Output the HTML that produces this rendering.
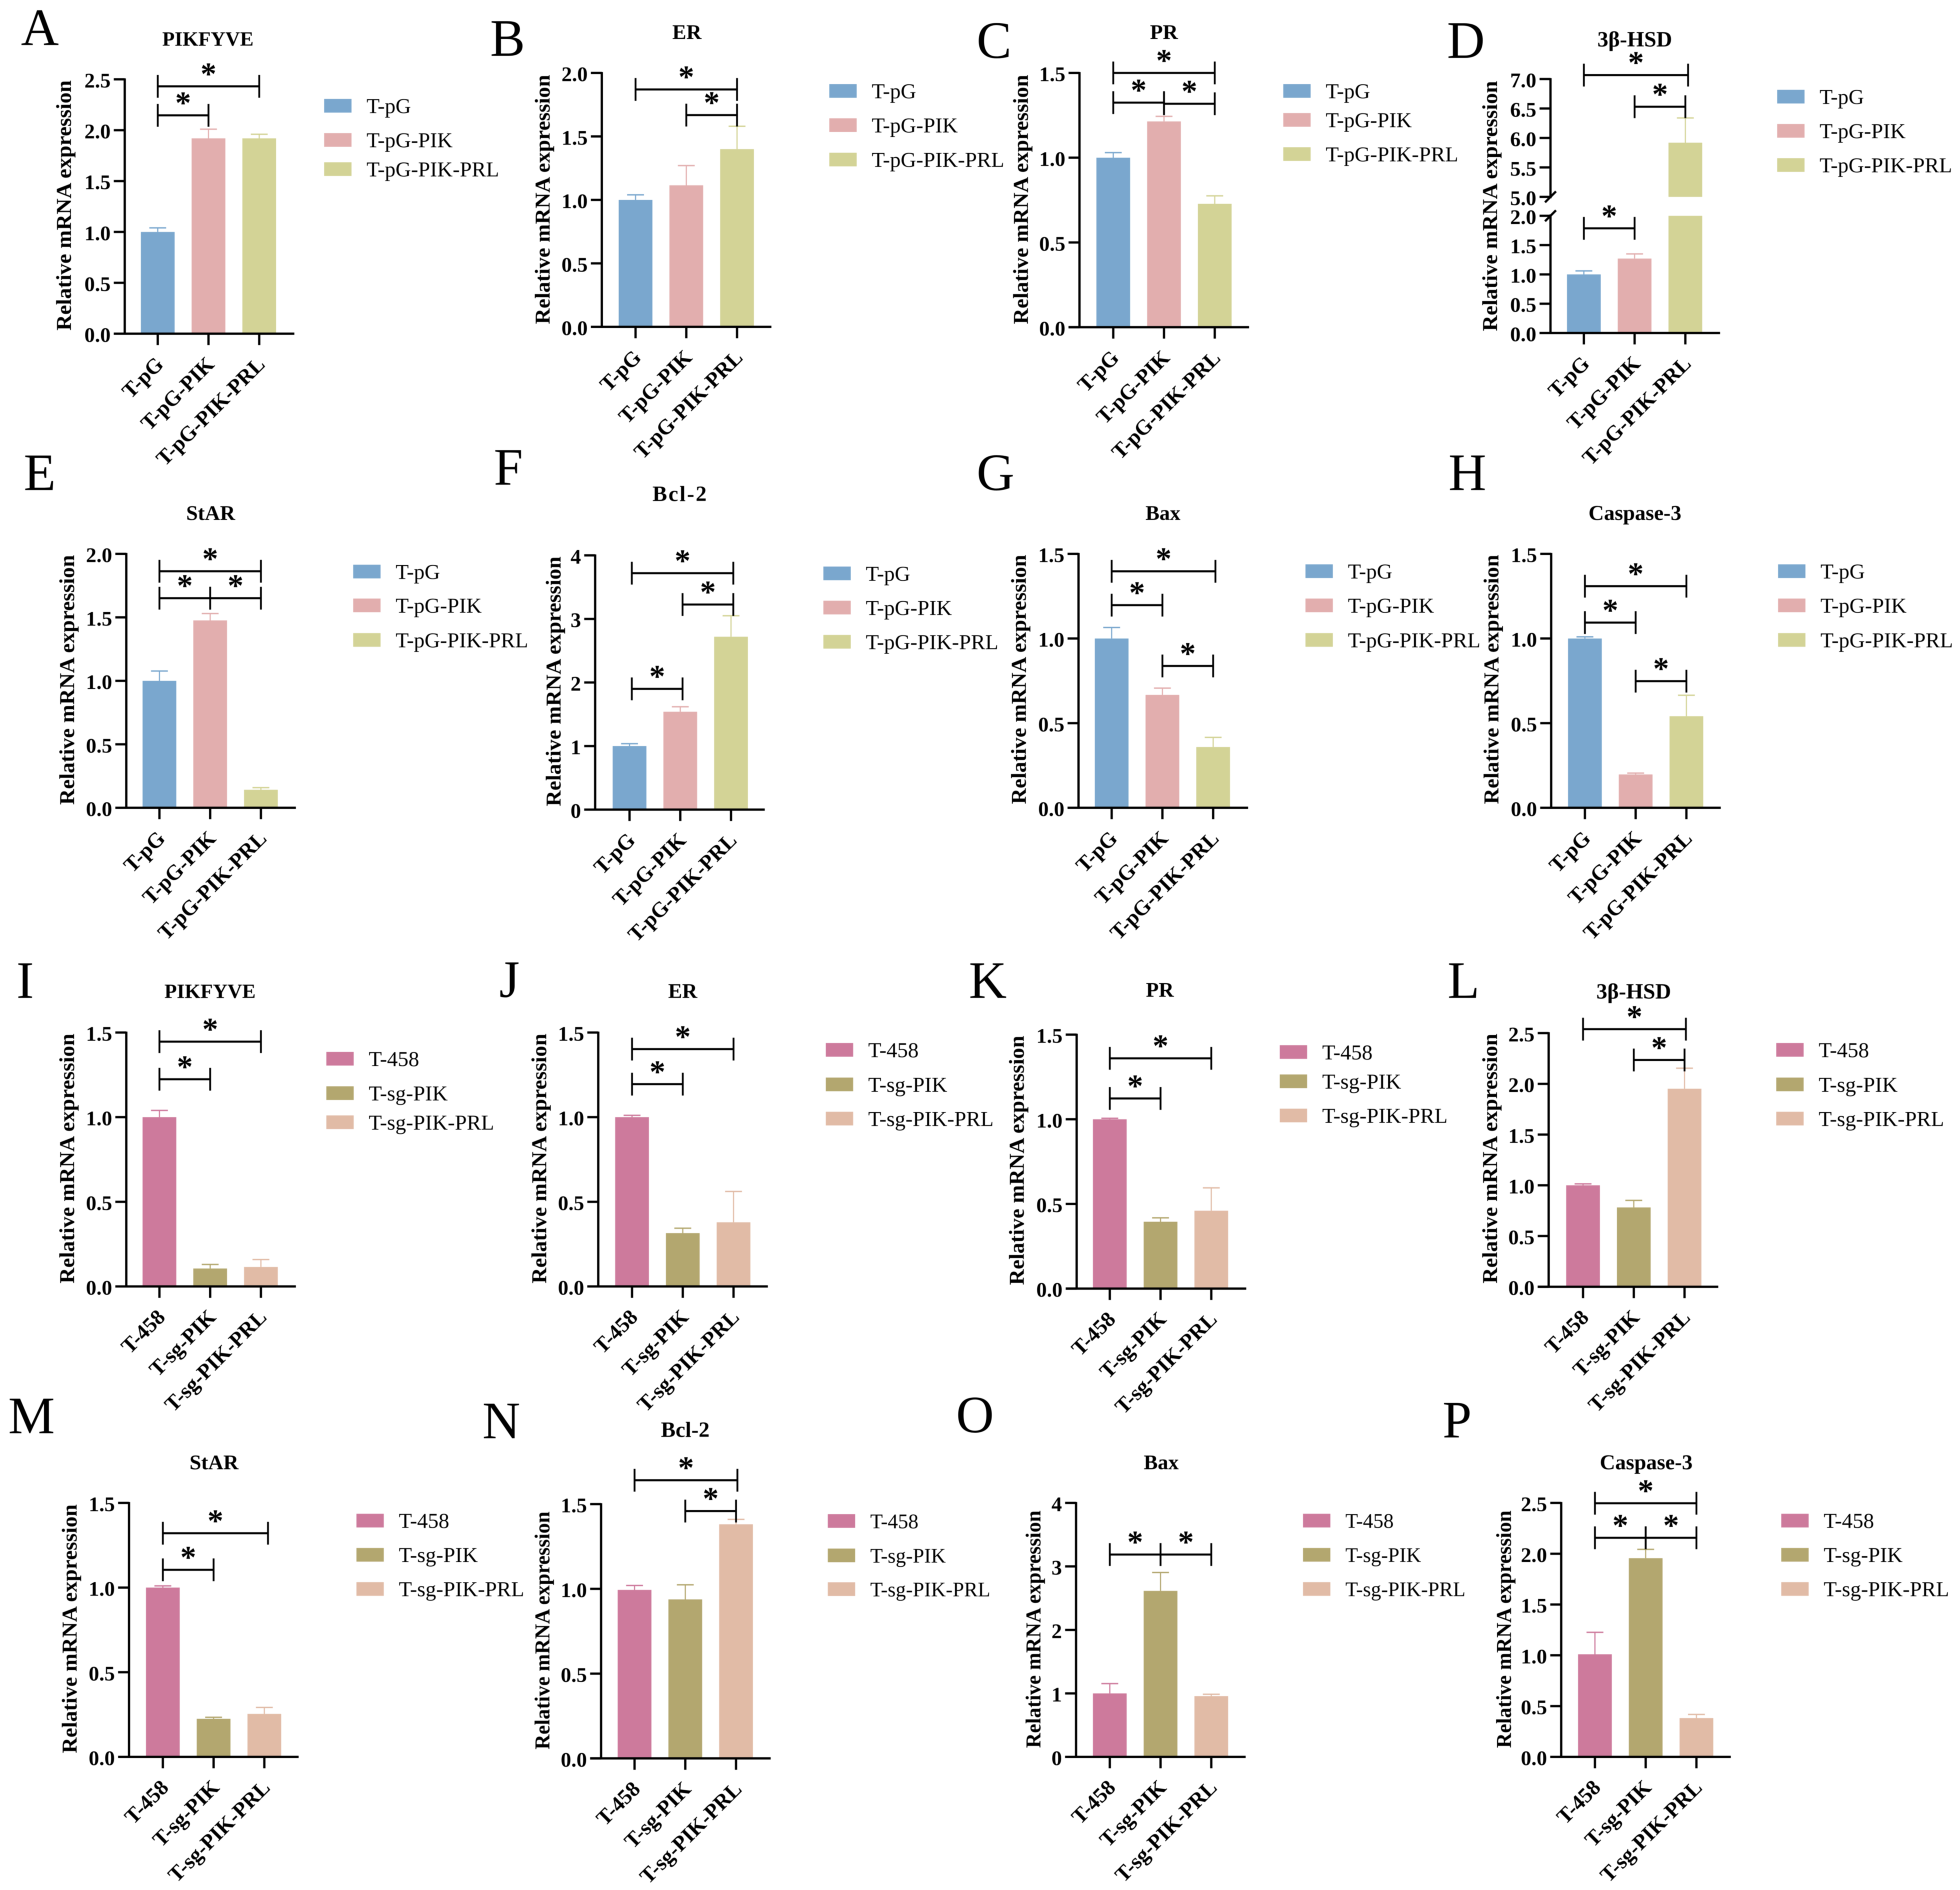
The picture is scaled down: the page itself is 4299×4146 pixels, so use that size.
<!DOCTYPE html>
<html lang="en">
<head>
<meta charset="utf-8">
<title>Relative mRNA expression panels A-P</title>
<style>
html,body{margin:0;padding:0;background:#fff;}
svg{display:block;filter:blur(0.8px);}
text{font-family:"Liberation Serif","DejaVu Serif",serif;fill:#000;}
.b{font-weight:bold;}
</style>
</head>
<body>
<svg id="figure" xmlns="http://www.w3.org/2000/svg" width="4299" height="4146" viewBox="0 0 4299 4146"></svg>
<script>
const categoriesPG = ["T-pG", "T-pG-PIK", "T-pG-PIK-PRL"];
const categoriesSG = ["T-458", "T-sg-PIK", "T-sg-PIK-PRL"];

const ticksTo15 = ["0.0", "0.5", "1.0", "1.5"];
const ticksTo20 = ["0.0", "0.5", "1.0", "1.5", "2.0"];
const ticksTo25 = ["0.0", "0.5", "1.0", "1.5", "2.0", "2.5"];
const ticksTo4 = ["0", "1", "2", "3", "4"];
const ticksBrokenLow = ["0.0", "0.5", "1.0", "1.5", "2.0"];
const ticksBrokenHigh = ["5.0", "5.5", "6.0", "6.5", "7.0"];

const valuesA = [1.0, 1.92, 1.92];
const errorsA = [0.04, 0.09, 0.04];
const bracketsA = [[0, 2, 2.431], [0, 1, 2.146]];

const valuesB = [1.0, 1.115, 1.40];
const errorsB = [0.04, 0.155, 0.18];
const bracketsB = [[0, 2, 1.87], [1, 2, 1.668]];

const valuesC = [1.0, 1.214, 0.728];
const errorsC = [0.03, 0.03, 0.047];
const bracketsC = [[0, 2, 1.5], [0, 1, 1.325], [1, 2, 1.318]];

const valuesD = [1.0, 1.27, 5.92];
const errorsD = [0.06, 0.08, 0.42];
const bracketsD = [[0, 2, 7.067], [1, 2, 6.53], [0, 1, 1.786]];

const valuesE = [1.0, 1.476, 0.142];
const errorsE = [0.077, 0.054, 0.017];
const bracketsE = [[0, 2, 1.863], [0, 1, 1.651], [1, 2, 1.651]];

const valuesF = [1.0, 1.54, 2.72];
const errorsF = [0.037, 0.078, 0.33];
const bracketsF = [[0, 2, 3.72], [1, 2, 3.227], [0, 1, 1.90]];

const valuesG = [1.0, 0.667, 0.359];
const errorsG = [0.065, 0.04, 0.057];
const bracketsG = [[0, 2, 1.397], [0, 1, 1.197], [1, 2, 0.838]];

const valuesH = [1.0, 0.197, 0.541];
const errorsH = [0.01, 0.008, 0.124];
const bracketsH = [[0, 2, 1.309], [0, 1, 1.094], [1, 2, 0.748]];

const valuesI = [1.0, 0.106, 0.115];
const errorsI = [0.04, 0.024, 0.044];
const bracketsI = [[0, 2, 1.446], [0, 1, 1.224]];

const valuesJ = [1.0, 0.315, 0.379];
const errorsJ = [0.011, 0.029, 0.182];
const bracketsJ = [[0, 2, 1.402], [0, 1, 1.195]];

const valuesK = [1.0, 0.395, 0.46];
const errorsK = [0.006, 0.023, 0.135];
const bracketsK = [[0, 2, 1.36], [0, 1, 1.123]];

const valuesL = [1.0, 0.782, 1.952];
const errorsL = [0.014, 0.069, 0.202];
const bracketsL = [[0, 2, 2.539], [1, 2, 2.235]];

const valuesM = [1.0, 0.225, 0.254];
const errorsM = [0.01, 0.009, 0.038];
const bracketsM = [[0, 2, 1.321], [0, 1, 1.105]];

const valuesN = [0.994, 0.938, 1.381];
const errorsN = [0.026, 0.086, 0.029];
const bracketsN = [[0, 2, 1.641], [1, 2, 1.459]];

const valuesO = [1.0, 2.615, 0.957];
const errorsO = [0.154, 0.289, 0.029];
const bracketsO = [[0, 1, 3.187], [1, 2, 3.187]];

const valuesP = [1.01, 1.956, 0.382];
const errorsP = [0.216, 0.087, 0.036];
const bracketsP = [[0, 2, 2.497], [0, 1, 2.157], [1, 2, 2.157]];

const colorsPG = ["#7aa7ce", "#e2aeae", "#d3d396"];
const colorsSG = ["#cd7a9c", "#b3a76f", "#e1bba6"];

const panels = [
  {k:"a", letter:"A", lx:46, ly:99, title:"PIKFYVE", ts:44.5, tx:456, ty:100, cats:categoriesPG, colors:colorsPG, values:valuesA, errors:errorsA, ticks:ticksTo25, brackets:bracketsA, ax:273.6, top:174, zero:732, c0:346, yx:155.7, yy:450.6, ylen:549, legx:711, legy:[232,307,371]},
  {k:"b", letter:"B", lx:1075, ly:122.5, title:"ER", ts:46, tx:1506.6, ty:85.7, cats:categoriesPG, colors:colorsPG, values:valuesB, errors:errorsB, ticks:ticksTo20, brackets:bracketsB, ax:1320, top:160, zero:717, c0:1394, yx:1205.7, yy:437.6, ylen:547, legx:1819, legy:[199.5,274.5,350]},
  {k:"c", letter:"C", lx:2142, ly:127, title:"PR", ts:46, tx:2553, ty:85.7, cats:categoriesPG, colors:colorsPG, values:valuesC, errors:errorsC, ticks:ticksTo15, brackets:bracketsC, ax:2367.7, top:160, zero:717.8, c0:2441.8, yx:2254.7, yy:437.6, ylen:547, legx:2814.7, legy:[199.5,263,338]},
  {k:"d", letter:"D", lx:3173.7, ly:127, title:"3β-HSD", ts:48, tx:3585.6, ty:101.8, cats:categoriesPG, colors:colorsPG, values:valuesD, errors:errorsD, ticks:ticksBrokenLow, ticksHigh:ticksBrokenHigh, brackets:bracketsD, ax:3400.8, top:173.4, zero:730.5, c0:3474, yx:3283.7, yy:452, ylen:549, legx:3898, legy:[212,287,362], nudge:6, broken:{lowMax:2, lowTop:473.4, highMin:5, highBottom:431.9}},
  {k:"e", letter:"E", lx:52, ly:1075, title:"StAR", ts:46, tx:462, ty:1140.6, cats:categoriesPG, colors:colorsPG, values:valuesE, errors:errorsE, ticks:ticksTo20, brackets:bracketsE, ax:277, top:1215, zero:1772, c0:349.7, yx:162.5, yy:1491.5, ylen:548, legx:774.7, legy:[1253.8,1328,1403.8]},
  {k:"f", letter:"F", lx:1083, ly:1063.6, title:"Bcl-2", ts:48, tsp:3, tx:1492, ty:1099, cats:categoriesPG, colors:colorsPG, values:valuesF, errors:errorsF, ticks:ticksTo4, brackets:bracketsF, ax:1305.4, top:1218.3, zero:1776, c0:1380.8, yx:1229.4, yy:1494.8, ylen:548, legx:1806, legy:[1257.8,1332.8,1407.8], shift:5},
  {k:"g", letter:"G", lx:2142, ly:1075, title:"Bax", ts:46, tx:2550.8, ty:1140.6, cats:categoriesPG, colors:colorsPG, values:valuesG, errors:errorsG, ticks:ticksTo15, brackets:bracketsG, ax:2365.6, top:1215, zero:1772, c0:2438.3, yx:2249.8, yy:1490.5, ylen:547, legx:2863.4, legy:[1253,1328,1403.8], nudge:5},
  {k:"h", letter:"H", lx:3177, ly:1075, title:"Caspase-3", ts:47, tx:3586, ty:1140.6, cats:categoriesPG, colors:colorsPG, values:valuesH, errors:errorsH, ticks:ticksTo15, brackets:bracketsH, ax:3402.3, top:1215, zero:1772, c0:3476.3, yx:3286.5, yy:1490.5, ylen:547, legx:3900, legy:[1253,1328,1403.8]},
  {k:"i", letter:"I", lx:36, ly:2189, title:"PIKFYVE", ts:44.5, tx:460.7, ty:2189, cats:categoriesSG, colors:colorsSG, values:valuesI, errors:errorsI, ticks:ticksTo15, brackets:bracketsI, ax:277, top:2265, zero:2822, c0:349.7, yx:162.5, yy:2541.5, ylen:548, legx:715.8, legy:[2322.5,2398,2461.8]},
  {k:"j", letter:"J", lx:1095, ly:2187, title:"ER", ts:46, tx:1497.4, ty:2189, cats:categoriesSG, colors:colorsSG, values:valuesJ, errors:errorsJ, ticks:ticksTo15, brackets:bracketsJ, ax:1312.2, top:2265, zero:2822, c0:1386.3, yx:1197.8, yy:2541.5, ylen:548, legx:1811.3, legy:[2303,2378.8,2453.8]},
  {k:"k", letter:"K", lx:2125, ly:2189, title:"PR", ts:46, tx:2544, ty:2186.6, cats:categoriesSG, colors:colorsSG, values:valuesK, errors:errorsK, ticks:ticksTo15, brackets:bracketsK, ax:2361.5, top:2269.6, zero:2826.7, c0:2434.2, yx:2245.7, yy:2545.5, ylen:547, legx:2807, legy:[2307.8,2372,2447]},
  {k:"l", letter:"L", lx:3175, ly:2189, title:"3β-HSD", ts:48, tx:3583.3, ty:2190.6, cats:categoriesSG, colors:colorsSG, values:valuesL, errors:errorsL, ticks:ticksTo25, brackets:bracketsL, ax:3396.8, top:2266.3, zero:2822.7, c0:3472.2, yx:3283.7, yy:2541.5, ylen:548, legx:3896, legy:[2303,2378.8,2453.8], nudge:3},
  {k:"m", letter:"M", lx:18, ly:3144, title:"StAR", ts:46, tx:469.4, ty:3223, cats:categoriesSG, colors:colorsSG, values:valuesM, errors:errorsM, ticks:ticksTo15, brackets:bracketsM, ax:283, top:3296.9, zero:3854, c0:357.2, yx:168, yy:3573, ylen:546, legx:781.8, legy:[3335.7,3410.7,3485.7], nudge:8},
  {k:"n", letter:"N", lx:1058, ly:3154.9, title:"Bcl-2", ts:48, tx:1503, ty:3152, cats:categoriesSG, colors:colorsSG, values:valuesN, errors:errorsN, ticks:ticksTo15, brackets:bracketsN, ax:1318.4, top:3299.5, zero:3857.3, c0:1391.8, yx:1205, yy:3576.7, ylen:522, legx:1815.7, legy:[3336.5,3412,3486], nudge:3, legfs:45},
  {k:"o", letter:"O", lx:2097, ly:3142, title:"Bax", ts:46, tx:2547, ty:3223, cats:categoriesSG, colors:colorsSG, values:valuesO, errors:errorsO, ticks:ticksTo4, brackets:bracketsO, ax:2360.2, top:3296.9, zero:3854, c0:2434.2, yx:2282, yy:3574, ylen:521, legx:2858, legy:[3335.7,3410.7,3485.7], legfs:45},
  {k:"p", letter:"P", lx:3164, ly:3153, title:"Caspase-3", ts:47, tx:3610.7, ty:3223, cats:categoriesSG, colors:colorsSG, values:valuesP, errors:errorsP, ticks:ticksTo25, brackets:bracketsP, ax:3424.3, top:3296.9, zero:3854, c0:3498.3, yx:3314, yy:3574, ylen:521, legx:3907, legy:[3335.7,3410.7,3485.7]}
];

const SVGNS = "http://www.w3.org/2000/svg";
const BAND = 111.3;
const BAR_W = 74;
const CAP_W = 37;
const AXIS_W = 5;
const TICK_LEN = 24;

function make(parent, tag, attrs, txt) {
  const n = document.createElementNS(SVGNS, tag);
  for (const key in attrs) n.setAttribute(key, attrs[key]);
  if (txt !== undefined) n.textContent = txt;
  parent.appendChild(n);
  return n;
}

function yScale(p) {
  if (p.broken) {
    const b = p.broken;
    const highMax = parseFloat(p.ticksHigh[p.ticksHigh.length - 1]);
    return function (v) {
      if (v <= b.lowMax) return p.zero - (v / b.lowMax) * (p.zero - b.lowTop);
      return b.highBottom - ((v - b.highMin) / (highMax - b.highMin)) * (b.highBottom - p.top);
    };
  }
  const max = parseFloat(p.ticks[p.ticks.length - 1]);
  return function (v) { return p.zero - (v / max) * (p.zero - p.top); };
}

function drawPanel(root, p) {
  const y = yScale(p);
  const x = function (i) { return p.c0 + i * BAND; };

  const g = make(root, "g", {});
  
  

  const letter = make(g, "text", {x: p.lx, y: p.ly, "font-size": 115}, p.letter);
  
  

  const title = make(g, "text", {x: p.tx, y: p.ty, "font-size": p.ts, "letter-spacing": p.tsp || 0, "text-anchor": "middle", "class": "b"}, p.title);
  
  

  const yTitle = make(g, "text", {x: p.yx, y: p.yy, "font-size": 47, "text-anchor": "middle", "class": "b", textLength: p.ylen, lengthAdjust: "spacingAndGlyphs", transform: "rotate(-90 " + p.yx + " " + p.yy + ")"}, "Relative mRNA expression");
  
  

  // bars
  p.values.forEach(function (v, i) {
    const cx = x(i);
    const col = p.colors[i];
    if (p.broken && v > p.broken.lowMax) {
      const low = make(g, "rect", {x: cx - BAR_W / 2, y: y(p.broken.lowMax), width: BAR_W, height: p.zero - y(p.broken.lowMax), fill: col});
      
      
      const high = make(g, "rect", {x: cx - BAR_W / 2, y: y(v), width: BAR_W, height: y(p.broken.highMin) - y(v), fill: col});
      
      
    } else {
      const bar = make(g, "rect", {x: cx - BAR_W / 2, y: y(v), width: BAR_W, height: p.zero - y(v), fill: col});
      
      
    }
    const upper = v + p.errors[i];
    const stem = make(g, "line", {x1: cx, x2: cx, y1: y(v), y2: y(upper), stroke: col, "stroke-width": 2.5});
    
    
    const cap = make(g, "line", {x1: cx - CAP_W / 2, x2: cx + CAP_W / 2, y1: y(upper), y2: y(upper), stroke: col, "stroke-width": 3});
    
    
  });

  // y axis
  if (p.broken) {
    const b = p.broken;
    const upperAxis = make(g, "line", {x1: p.ax, x2: p.ax, y1: p.top - 2, y2: b.highBottom + 3, stroke: "#000", "stroke-width": AXIS_W});
    
    
    const lowerAxis = make(g, "line", {x1: p.ax, x2: p.ax, y1: b.lowTop - 3, y2: p.zero + 2, stroke: "#000", "stroke-width": AXIS_W});
    
    
    [b.highBottom, b.lowTop].forEach(function (by) {
      const slash = make(g, "line", {x1: p.ax - 12, x2: p.ax + 12, y1: by + 12, y2: by - 12, stroke: "#000", "stroke-width": AXIS_W});
      
      
    });
  } else {
    const yAxis = make(g, "line", {x1: p.ax, x2: p.ax, y1: p.top - 2, y2: p.zero + 2, stroke: "#000", "stroke-width": AXIS_W});
    
    
  }

  // y ticks
  const allTicks = p.ticks.concat(p.ticksHigh || []);
  allTicks.forEach(function (t) {
    const ty = y(parseFloat(t));
    const tick = make(g, "line", {x1: p.ax - TICK_LEN, x2: p.ax, y1: ty, y2: ty, stroke: "#000", "stroke-width": AXIS_W});
    
    
    const label = make(g, "text", {x: p.ax - 31, y: ty + 18, "font-size": 46, "text-anchor": "end", "class": "b"}, t);
    
    
  });

  // x axis
  const xAxis = make(g, "line", {x1: p.ax - TICK_LEN, x2: p.ax + 372, y1: p.zero, y2: p.zero, stroke: "#000", "stroke-width": AXIS_W});
  
  

  p.cats.forEach(function (c, i) {
    const cx = x(i);
    const tick = make(g, "line", {x1: cx, x2: cx, y1: p.zero, y2: p.zero + 25, stroke: "#000", "stroke-width": AXIS_W});
    
    
    const ax = cx + 15;
    const ay = p.zero + 70;
    const label = make(g, "text", {x: ax, y: ay, "font-size": 47, "text-anchor": "end", "class": "b", transform: "rotate(-45 " + ax + " " + ay + ")"}, c);
    
    
  });

  // significance brackets
  p.brackets.forEach(function (b) {
    const shift = p.shift || 0;
    const x1 = x(b[0]) + shift;
    const x2 = x(b[1]) + shift + (b[0] === 0 && b[1] === 2 ? (p.nudge || 0) : 0);
    const by = y(b[2]);
    const h = make(g, "line", {x1: x1, x2: x2, y1: by, y2: by, stroke: "#000", "stroke-width": 4.5});
    
    
    [x1, x2].forEach(function (ex) {
      const v = make(g, "line", {x1: ex, x2: ex, y1: by - 25, y2: by + 25, stroke: "#000", "stroke-width": 4});
      
      
    });
    const star = make(g, "text", {x: (x1 + x2) / 2, y: by - 4, "font-size": 70, "text-anchor": "middle", "class": "b"}, "*");
    
    
  });

  // legend
  p.cats.forEach(function (c, i) {
    const cy = p.legy[i];
    const sw = make(g, "rect", {x: p.legx, y: cy - 15, width: 60, height: 30, fill: p.colors[i]});
    
    
    const lt = make(g, "text", {x: p.legx + 93, y: cy + 16, "font-size": p.legfs || 47}, c);
    
    
  });
}

const rootSvg = document.getElementById("figure");
panels.forEach(function (p) { drawPanel(rootSvg, p); });
</script>
</body>
</html>
